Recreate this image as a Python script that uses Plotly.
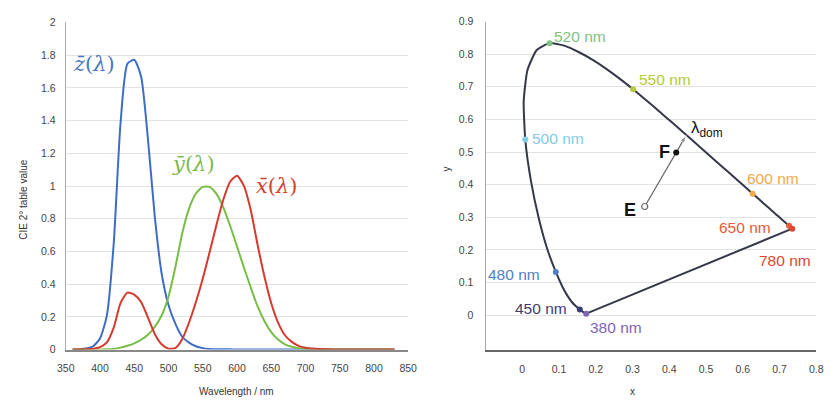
import plotly.graph_objects as go

# ---------------- Left chart: CIE 1931 2° colour matching functions ----------------
wavelength = [360, 370, 380, 390, 400, 410, 420, 430, 440, 450, 460, 470, 480, 490, 500,
              510, 520, 530, 540, 550, 560, 570, 580, 590, 600, 610, 620, 630, 640, 650,
              660, 670, 680, 690, 700, 710, 720, 730, 740, 750, 760, 770, 780, 800, 830]
x_bar = [0.0001, 0.0004, 0.0014, 0.0042, 0.0143, 0.0435, 0.1344, 0.2839, 0.3483, 0.3362,
         0.2908, 0.1954, 0.0956, 0.0320, 0.0049, 0.0093, 0.0633, 0.1655, 0.2904, 0.4334,
         0.5945, 0.7621, 0.9163, 1.0263, 1.0622, 1.0026, 0.8544, 0.6424, 0.4479, 0.2835,
         0.1649, 0.0874, 0.0468, 0.0227, 0.0114, 0.0058, 0.0029, 0.0014, 0.0007, 0.0003,
         0.0002, 0.0001, 0.0000, 0.0000, 0.0000]
y_bar = [0.0000, 0.0000, 0.0000, 0.0001, 0.0004, 0.0012, 0.0040, 0.0116, 0.0230, 0.0380,
         0.0600, 0.0910, 0.1390, 0.2080, 0.3230, 0.5030, 0.7100, 0.8620, 0.9540, 0.9950,
         0.9950, 0.9520, 0.8700, 0.7570, 0.6310, 0.5030, 0.3810, 0.2650, 0.1750, 0.1070,
         0.0610, 0.0320, 0.0170, 0.0082, 0.0041, 0.0021, 0.0010, 0.0005, 0.0002, 0.0001,
         0.0001, 0.0000, 0.0000, 0.0000, 0.0000]
z_bar = [0.0006, 0.0019, 0.0065, 0.0201, 0.0679, 0.2074, 0.6456, 1.3856, 1.7471, 1.7721,
         1.6692, 1.2876, 0.8130, 0.4652, 0.2720, 0.1582, 0.0782, 0.0422, 0.0203, 0.0087,
         0.0039, 0.0021, 0.0017, 0.0011, 0.0008, 0.0003, 0.0002, 0.0000, 0.0000, 0.0000,
         0.0000, 0.0000, 0.0000, 0.0000, 0.0000, 0.0000, 0.0000, 0.0000, 0.0000, 0.0000,
         0.0000, 0.0000, 0.0000, 0.0000, 0.0000]
left_xticks = [350, 400, 450, 500, 550, 600, 650, 700, 750, 800, 850]
left_yticks = [0, 0.2, 0.4, 0.6, 0.8, 1, 1.2, 1.4, 1.6, 1.8, 2]
left_yticktext = ["0", "0.2", "0.4", "0.6", "0.8", "1", "1.2", "1.4", "1.6", "1.8", "2"]

# ---------------- Right chart: CIE 1931 chromaticity diagram ----------------
locus_nm = [380, 390, 400, 410, 420, 425, 430, 435, 440, 445, 450, 455, 460, 465, 470, 475,
            480, 485, 490, 495, 500, 505, 510, 515, 520, 525, 530, 535, 540, 545, 550, 555,
            560, 565, 570, 575, 580, 585, 590, 595, 600, 605, 610, 615, 620, 625, 630, 640,
            650, 660, 670, 680, 700, 780]
locus_x = [0.1741, 0.1738, 0.1733, 0.1726, 0.1714, 0.1703, 0.1689, 0.1669, 0.1644, 0.1611,
           0.1566, 0.1510, 0.1440, 0.1355, 0.1241, 0.1096, 0.0913, 0.0687, 0.0454, 0.0235,
           0.0082, 0.0039, 0.0139, 0.0389, 0.0743, 0.1142, 0.1547, 0.1929, 0.2296, 0.2658,
           0.3016, 0.3373, 0.3731, 0.4087, 0.4441, 0.4788, 0.5125, 0.5448, 0.5752, 0.6029,
           0.6270, 0.6482, 0.6658, 0.6801, 0.6915, 0.7006, 0.7079, 0.7190, 0.7260, 0.7300,
           0.7320, 0.7334, 0.7347, 0.7347]
locus_y = [0.0050, 0.0049, 0.0048, 0.0048, 0.0051, 0.0058, 0.0069, 0.0086, 0.0109, 0.0138,
           0.0177, 0.0227, 0.0297, 0.0399, 0.0578, 0.0868, 0.1327, 0.2007, 0.2950, 0.4127,
           0.5384, 0.6548, 0.7502, 0.8120, 0.8338, 0.8262, 0.8059, 0.7816, 0.7543, 0.7243,
           0.6923, 0.6589, 0.6245, 0.5896, 0.5547, 0.5202, 0.4866, 0.4544, 0.4242, 0.3965,
           0.3725, 0.3514, 0.3340, 0.3197, 0.3083, 0.2993, 0.2920, 0.2809, 0.2740, 0.2700,
           0.2680, 0.2666, 0.2653, 0.2653]

marker_nm = [520, 550, 500, 600, 650, 780, 480, 450, 380]
marker_labels = ["520 nm", "550 nm", "500 nm", "600 nm", "650 nm", "780 nm", "480 nm", "450 nm", "380 nm"]
marker_colors = ["#80c27e", "#b4cc3c", "#80cde8", "#f4a84c", "#e85a3a", "#e0452f", "#5080c8", "#3a3f72", "#8064b4"]

point_E = (0.3333, 0.3333)
point_F = (0.419, 0.499)
point_dom = (0.446, 0.551)

right_xticks = [0, 0.1, 0.2, 0.3, 0.4, 0.5, 0.6, 0.7, 0.8]
right_yticks = [0, 0.1, 0.2, 0.3, 0.4, 0.5, 0.6, 0.7, 0.8, 0.9]

# label centres in page pixels (layout only)
label_px = [(584, 31), (670, 76), (561, 137), (781, 178), (752, 228), (793, 262),
            (516, 277), (544, 312), (620, 331)]

W, H = 836, 406
BLUE, GREEN, RED = "#3d6ec4", "#78be46", "#d63a2e"
SANS = "Liberation Sans, Arial, sans-serif"
TICKFONT = dict(family=SANS, size=10.5, color="#444444")

fig = go.Figure()

for vals, col in [(z_bar, BLUE), (y_bar, GREEN), (x_bar, RED)]:
    fig.add_trace(go.Scatter(x=wavelength, y=vals, mode="lines",
                             line=dict(color=col, width=2, shape="spline", smoothing=0.6),
                             xaxis="x", yaxis="y", showlegend=False, hoverinfo="skip"))

# spectral locus (curved) and purple line (straight)
fig.add_trace(go.Scatter(x=locus_x, y=locus_y, mode="lines",
                         line=dict(color="#35384a", width=2, shape="spline", smoothing=0.5),
                         xaxis="x2", yaxis="y2", showlegend=False, hoverinfo="skip"))
fig.add_trace(go.Scatter(x=[locus_x[-1], locus_x[0]], y=[locus_y[-1], locus_y[0]], mode="lines",
                         line=dict(color="#35384a", width=2),
                         xaxis="x2", yaxis="y2", showlegend=False, hoverinfo="skip"))

# markers at selected wavelengths
mx = [locus_x[locus_nm.index(n)] for n in marker_nm]
my = [locus_y[locus_nm.index(n)] for n in marker_nm]
fig.add_trace(go.Scatter(x=mx, y=my, mode="markers", marker=dict(color=marker_colors, size=6),
                         xaxis="x2", yaxis="y2", showlegend=False, hoverinfo="skip"))

# E -> dominant wavelength line with arrow head
fig.add_trace(go.Scatter(x=[point_E[0], point_dom[0]], y=[point_E[1], point_dom[1]], mode="lines+markers",
                         line=dict(color="#666666", width=1.2),
                         marker=dict(symbol=["circle", "arrow"], size=[0, 8], color="#666666",
                                     angleref="previous"),
                         xaxis="x2", yaxis="y2", showlegend=False, hoverinfo="skip"))
fig.add_trace(go.Scatter(x=[point_E[0]], y=[point_E[1]], mode="markers",
                         marker=dict(color="white", size=6, line=dict(color="#666666", width=1.2)),
                         xaxis="x2", yaxis="y2", showlegend=False, hoverinfo="skip"))
fig.add_trace(go.Scatter(x=[point_F[0]], y=[point_F[1]], mode="markers",
                         marker=dict(color="#111111", size=6),
                         xaxis="x2", yaxis="y2", showlegend=False, hoverinfo="skip"))

ann = []
SERIF = "DejaVu Serif, Liberation Serif, serif"
ann.append(dict(x=87, y=60, text="<i>z̄</i>(<i>λ</i>)", font=dict(family=SERIF, size=21, color="#4a78c2")))
ann.append(dict(x=189, y=163, text="<i>ȳ</i>(<i>λ</i>)", font=dict(family=SERIF, size=21, color="#7cba4c")))
ann.append(dict(x=274, y=185, text="<i>x̄</i>(<i>λ</i>)", font=dict(family=SERIF, size=21, color="#d4402f")))

for lab, col, (px, py) in zip(marker_labels, marker_colors, label_px):
    ann.append(dict(x=px, y=py, text=lab, font=dict(family=SANS, size=15.5, color=col)))

ann.append(dict(x=713, y=127, text="λ<sub>dom</sub>", font=dict(family=SANS, size=17, color="#111111")))
ann.append(dict(x=670, y=150, text="<b>F</b>", font=dict(family=SANS, size=18, color="#111111")))
ann.append(dict(x=635, y=210, text="<b>E</b>", font=dict(family=SANS, size=18, color="#111111")))

TITLEFONT = dict(family=SANS, size=10, color="#333333")
ann.append(dict(x=233, y=397, text="Wavelength / nm", font=TITLEFONT))
ann.append(dict(x=14, y=199, text="CIE 2° table value", textangle=-90, font=TITLEFONT))
ann.append(dict(x=637, y=397, text="x", font=TITLEFONT))
ann.append(dict(x=447, y=168, text="y", textangle=-90, font=TITLEFONT))

for a in ann:
    a["x"] = a["x"] / W
    a["y"] = 1 - a["y"] / H
    a.update(xref="paper", yref="paper", xanchor="center", yanchor="middle", showarrow=False)

fig.update_layout(
    width=W, height=H,
    margin=dict(l=0, r=0, t=0, b=0),
    paper_bgcolor="white", plot_bgcolor="white",
    annotations=ann,
    xaxis=dict(domain=[58 / W, 408 / W], range=[350, 850], tickvals=left_xticks, showgrid=False,
               showline=True, linecolor="#888888", linewidth=1.5, ticks="", tickfont=TICKFONT,
               ticklabelstandoff=8, zeroline=False, anchor="y"),
    yaxis=dict(domain=[1 - 354 / H, 1 - 17 / H], range=[0, 2], tickvals=left_yticks, ticktext=left_yticktext,
               showgrid=True, gridcolor="#e3e3e3", gridwidth=1, showline=True, linecolor="#aaaaaa",
               linewidth=1, ticks="", tickfont=TICKFONT, ticklabelstandoff=7, zeroline=False, anchor="x"),
    xaxis2=dict(domain=[487 / W, 825 / W], range=[-0.1, 0.8], tickvals=right_xticks, showgrid=False,
                showline=True, linecolor="#666666", linewidth=1.5, ticks="", tickfont=TICKFONT,
                ticklabelstandoff=9, zeroline=False, anchor="y2"),
    yaxis2=dict(domain=[1 - 354 / H, 1 - 16 / H], range=[-0.105, 0.9], tickvals=right_yticks,
                showgrid=True, gridcolor="#e3e3e3", gridwidth=1, showline=True, linecolor="#aaaaaa",
                linewidth=1, ticks="", tickfont=TICKFONT, ticklabelstandoff=9, zeroline=False, anchor="x2"),
)

fig.write_html("out.html", config={"displayModeBar": False},
               post_script="document.body.style.margin='0';document.body.style.overflow='hidden';")
